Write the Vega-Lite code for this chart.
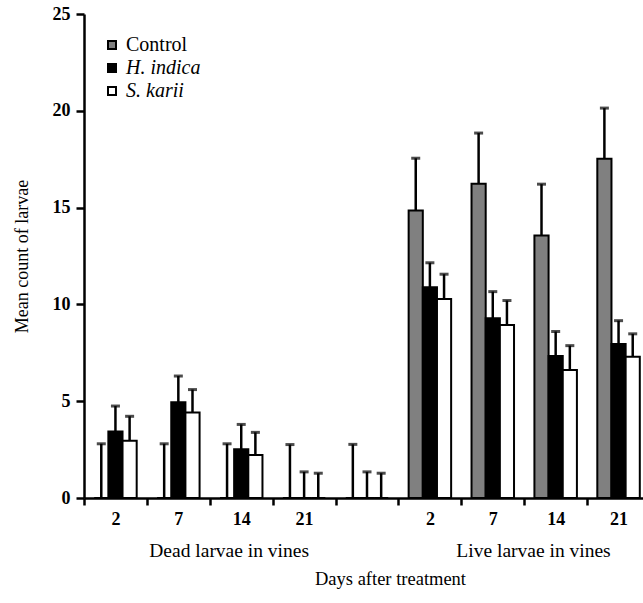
{
  "$schema": "https://vega.github.io/schema/vega-lite/v6.json",
  "autosize": {"type": "none"},
  "width": 566,
  "height": 484,
  "padding": {"left": 84, "top": 14, "right": -7, "bottom": 105},
  "background": "white",
  "config": {
    "view": {"stroke": null},
    "font": "Liberation Serif",
    "axis": {
      "grid": false,
      "domainColor": "black",
      "domainWidth": 2.5,
      "tickColor": "black",
      "tickWidth": 2.5,
      "labelColor": "black",
      "titleColor": "black",
      "labelFont": "Liberation Serif",
      "titleFont": "Liberation Serif",
      "labelFontSize": 18,
      "titleFontSize": 18,
      "titleFontWeight": "normal"
    },
    "legend": {"labelFont": "Liberation Serif"}
  },
  "resolve": {"scale": {"x": "independent"}, "axis": {"x": "independent"}},
  "layer": [
    {
      "data": {
        "values": [
          {"slot": "D2", "treatment": "Control", "mean": 0, "upper": 2.8},
          {"slot": "D2", "treatment": "H. indica", "mean": 3.43, "upper": 4.75},
          {"slot": "D2", "treatment": "S. karii", "mean": 2.96, "upper": 4.22},
          {"slot": "D7", "treatment": "Control", "mean": 0, "upper": 2.8},
          {"slot": "D7", "treatment": "H. indica", "mean": 4.95, "upper": 6.3},
          {"slot": "D7", "treatment": "S. karii", "mean": 4.41, "upper": 5.6},
          {"slot": "D14", "treatment": "Control", "mean": 0, "upper": 2.8},
          {"slot": "D14", "treatment": "H. indica", "mean": 2.52, "upper": 3.8},
          {"slot": "D14", "treatment": "S. karii", "mean": 2.22, "upper": 3.39},
          {"slot": "D21", "treatment": "Control", "mean": 0, "upper": 2.76},
          {"slot": "D21", "treatment": "H. indica", "mean": 0, "upper": 1.35},
          {"slot": "D21", "treatment": "S. karii", "mean": 0, "upper": 1.28},
          {"slot": "gap", "treatment": "Control", "mean": 0, "upper": 2.77},
          {"slot": "gap", "treatment": "H. indica", "mean": 0, "upper": 1.35},
          {"slot": "gap", "treatment": "S. karii", "mean": 0, "upper": 1.28},
          {"slot": "L2", "treatment": "Control", "mean": 14.85, "upper": 17.55},
          {"slot": "L2", "treatment": "H. indica", "mean": 10.89, "upper": 12.15},
          {"slot": "L2", "treatment": "S. karii", "mean": 10.28, "upper": 11.56},
          {"slot": "L7", "treatment": "Control", "mean": 16.23, "upper": 18.85},
          {"slot": "L7", "treatment": "H. indica", "mean": 9.29, "upper": 10.66},
          {"slot": "L7", "treatment": "S. karii", "mean": 8.94, "upper": 10.2},
          {"slot": "L14", "treatment": "Control", "mean": 13.56, "upper": 16.21},
          {"slot": "L14", "treatment": "H. indica", "mean": 7.34, "upper": 8.6},
          {"slot": "L14", "treatment": "S. karii", "mean": 6.61, "upper": 7.87},
          {"slot": "L21", "treatment": "Control", "mean": 17.52, "upper": 20.14},
          {"slot": "L21", "treatment": "H. indica", "mean": 7.96, "upper": 9.16},
          {"slot": "L21", "treatment": "S. karii", "mean": 7.3, "upper": 8.48}
        ]
      },
      "encoding": {
        "x": {
          "field": "slot",
          "type": "nominal",
          "scale": {
            "domain": ["D2", "D7", "D14", "D21", "gap", "L2", "L7", "L14", "L21"],
            "paddingInner": 0,
            "paddingOuter": 0
          },
          "axis": {
            "orient": "bottom",
            "title": null,
            "labelAngle": 0,
            "labelExpr": "isString(datum.value) && datum.value != 'gap' ? slice(datum.value, 1) : ''",
            "labelFontWeight": "bold",
            "tickBand": "extent",
            "tickSize": 7,
            "labelPadding": 5
          }
        },
        "xOffset": {
          "field": "treatment",
          "type": "nominal",
          "scale": {
            "domain": ["Control", "H. indica", "S. karii"],
            "paddingInner": 0,
            "paddingOuter": 0.72
          }
        }
      },
      "layer": [
        {
          "mark": {"type": "bar", "stroke": "black", "strokeWidth": 2},
          "encoding": {
            "y": {
              "field": "mean",
              "type": "quantitative",
              "scale": {"domain": [0, 25], "nice": false},
              "axis": {
                "title": "Mean count of larvae",
                "values": [0, 5, 10, 15, 20, 25],
                "labelFontWeight": "bold",
                "tickSize": 8,
                "labelPadding": 6,
                "titlePadding": 21
              }
            },
            "fill": {
              "field": "treatment",
              "type": "nominal",
              "scale": {
                "domain": ["Control", "H. indica", "S. karii"],
                "range": ["#808080", "#000000", "#ffffff"]
              },
              "legend": {
                "orient": "none",
                "legendX": 18,
                "legendY": 21,
                "title": null,
                "padding": 0,
                "symbolType": "square",
                "symbolSize": 64,
                "symbolStrokeColor": "black",
                "symbolStrokeWidth": 2,
                "labelFont": "Liberation Serif",
                "labelFontSize": 20,
                "labelColor": "black",
                "labelOffset": 4,
                "rowPadding": 3,
                "encode": {
                  "labels": {
                    "update": {
                      "fontStyle": {"signal": "datum.value == 'Control' ? 'normal' : 'italic'"}
                    }
                  }
                }
              }
            }
          }
        },
        {
          "mark": {"type": "rule", "color": "black", "strokeWidth": 2.5},
          "encoding": {
            "y": {"field": "mean", "type": "quantitative"},
            "y2": {"field": "upper"}
          }
        },
        {
          "mark": {"type": "tick", "color": "black", "size": 9, "thickness": 3},
          "encoding": {
            "y": {"field": "upper", "type": "quantitative"}
          }
        }
      ]
    },
    {
      "data": {
        "values": [
          {"group": "Dead larvae in vines", "center": 2.3},
          {"group": "Live larvae in vines", "center": 7.14}
        ]
      },
      "mark": {"type": "tick", "opacity": 0},
      "encoding": {
        "x": {
          "field": "center",
          "type": "quantitative",
          "scale": {"domain": [0, 9], "nice": false, "zero": false},
          "axis": {
            "orient": "bottom",
            "values": [2.3, 7.14],
            "labelExpr": "datum.value < 5 ? 'Dead larvae in vines' : 'Live larvae in vines'",
            "ticks": false,
            "domain": false,
            "labelFontSize": 19.5,
            "labelPadding": 43,
            "labelFlush": false,
            "labelBound": false,
            "labelOverlap": false,
            "title": "Days after treatment",
            "titleFontSize": 18.5,
            "titleX": 306,
            "titlePadding": 10
          }
        }
      }
    }
  ]
}
